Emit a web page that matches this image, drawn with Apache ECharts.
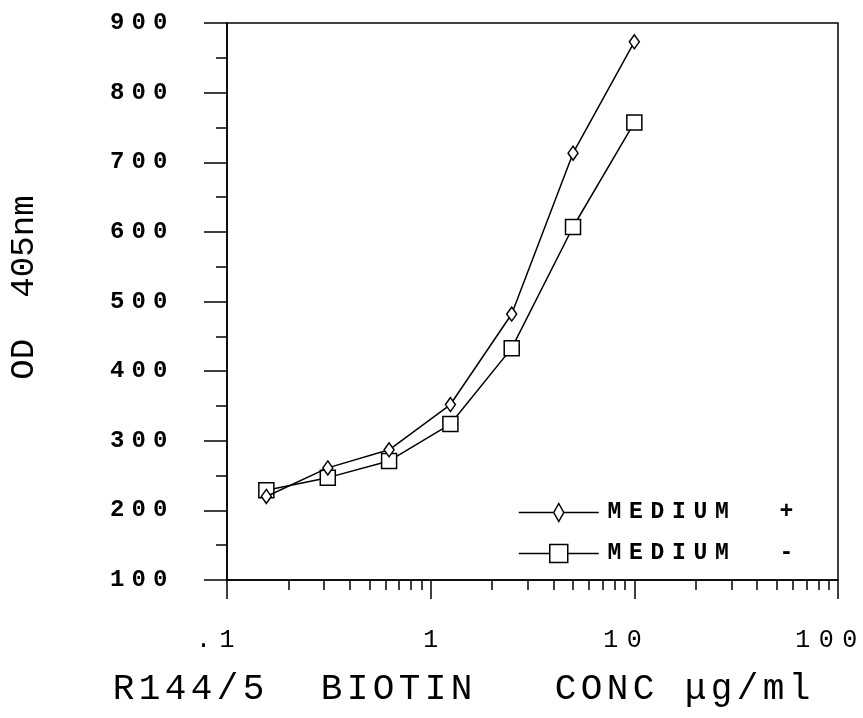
<!DOCTYPE html>
<html>
<head>
<meta charset="utf-8">
<script src="https://cdn.jsdelivr.net/npm/echarts@6/dist/echarts.min.js"></script>
<style>
  html, body { margin: 0; padding: 0; background: #fff; }
  #chart { width: 863px; height: 718px; }
</style>
</head>
<body>
<div id="chart"></div>
<script>
// Biotin concentration (µg/ml), two-fold dilution series
const concentrations = [0.156, 0.3125, 0.625, 1.25, 2.5, 5, 10];
// OD at 405 nm
const mediumPlus  = [220, 261, 287, 352, 482, 713, 873];
const mediumMinus = [229, 247, 271, 324, 433, 607, 757];

const seriesNames = ['MEDIUM  +', 'MEDIUM  -'];
const xTickValues = [0.1, 1, 10, 100];
const xTickLabels = ['.1 ', '1', '10 ', '100 '];
const xMinorTicks = [0.2, 0.3, 0.4, 0.5, 0.6, 0.7, 0.8, 0.9,
                     2, 3, 4, 5, 6, 7, 8, 9,
                     20, 30, 40, 50, 60, 70, 80, 90];
const yTickLabels = ['100', '200', '300', '400', '500', '600', '700', '800', '900'];
const xTitle = 'R144/5  BIOTIN   CONC μg/ml';
const yTitle = 'OD  405nm';

const FONT = '"Liberation Mono", "DejaVu Sans Mono", monospace';

// Lay every character in a fixed-width box (wide typewriter spacing)
function spaced(text, style) {
  return text.split('').map(ch => '{' + style + '|' + (ch === ' ' ? '\u00a0' : ch) + '}').join('');
}
function charBox(width, size, weight) {
  return { width: width, align: 'center', fontFamily: FONT, fontSize: size,
           fontWeight: weight, color: '#000' };
}

const toPairs = vals => concentrations.map((c, i) => [c, vals[i]]);

const chart = echarts.init(document.getElementById('chart'), null, { renderer: 'canvas' });

const option = {
  backgroundColor: '#fff',
  animation: false,
  grid: {
    left: 227, right: 25, top: 23, bottom: 138,
    outerBoundsMode: 'none',
    containLabel: false,
    show: true, borderColor: '#000', borderWidth: 1.5, backgroundColor: 'transparent'
  },
  legend: {
    orient: 'vertical',
    left: 513, top: 496,
    itemWidth: 80, itemHeight: 18, itemGap: 18,
    formatter: name => spaced(name, 'lg'),
    textStyle: { rich: { lg: charBox(21.5, 23, 'bold') } },
    data: [
      { name: seriesNames[0],
        icon: 'path://M0,9L35,9M45,9L80,9M40,0L45,9L40,18L35,9Z',
        itemStyle: { color: '#fff', borderColor: '#000', borderWidth: 1.5 } },
      { name: seriesNames[1],
        icon: 'path://M0,9L31,9M49,9L80,9M31,0L49,0L49,18L31,18Z',
        itemStyle: { color: '#fff', borderColor: '#000', borderWidth: 1.5 } }
    ]
  },
  xAxis: [
    {
      type: 'log', logBase: 10, min: 0.1, max: 100,
      position: 'bottom',
      axisLine: { lineStyle: { color: '#000', width: 1.5 } },
      axisTick: { show: true, inside: false, length: 19, lineStyle: { color: '#000', width: 1.5 } },
      splitLine: { show: false },
      axisLabel: {
        margin: 48,
        formatter: v => spaced(xTickLabels[xTickValues.findIndex(t => Math.abs(Math.log10(t) - Math.log10(v)) < 1e-6)] || '', 'xl'),
        rich: { xl: charBox(23.5, 25, 'normal') }
      },
      name: spaced(xTitle, 'xt'),
      nameLocation: 'middle',
      nameGap: 91,
      nameTextStyle: { padding: [0, 142, 0, 0], rich: { xt: charBox(26, 36, 'normal') } }
    },
    {
      // minor logarithmic ticks
      type: 'log', logBase: 10, min: 0.1, max: 100,
      position: 'bottom',
      axisLine: { show: false },
      axisTick: { show: true, inside: false, length: 10, customValues: xMinorTicks,
                  lineStyle: { color: '#000', width: 1.5 } },
      axisLabel: { show: false },
      splitLine: { show: false }
    }
  ],
  yAxis: {
    type: 'value', min: 100, max: 900, interval: 100,
    axisLine: { show: true, lineStyle: { color: '#000', width: 1.5 } },
    axisTick: { show: true, inside: false, length: 23, lineStyle: { color: '#000', width: 1.5 } },
    minorTick: { show: true, splitNumber: 2, length: 11, lineStyle: { color: '#000', width: 1.5 } },
    splitLine: { show: false },
    axisLabel: {
      margin: 56,
      formatter: v => spaced(yTickLabels[Math.round((v - 100) / 100)] || '', 'yl'),
      rich: { yl: charBox(21.5, 24, 'bold') }
    },
    name: spaced(yTitle, 'yt'),
    nameLocation: 'middle',
    nameGap: 186,
    nameTextStyle: { padding: [0, 0, 0, 28], rich: { yt: charBox(20.5, 34, 'normal') } }
  },
  series: [
    {
      name: seriesNames[0], type: 'line', xAxisIndex: 0,
      data: toPairs(mediumPlus),
      symbol: 'diamond', symbolSize: [10, 14], showAllSymbol: true,
      lineStyle: { color: '#000', width: 1.5 },
      itemStyle: { color: '#fff', borderColor: '#000', borderWidth: 1.5 },
      z: 3
    },
    {
      name: seriesNames[1], type: 'line', xAxisIndex: 0,
      data: toPairs(mediumMinus),
      symbol: 'rect', symbolSize: 15, showAllSymbol: true,
      lineStyle: { color: '#000', width: 1.5 },
      itemStyle: { color: '#fff', borderColor: '#000', borderWidth: 1.5 },
      z: 2
    }
  ]
};

chart.setOption(option);
</script>
</body>
</html>
